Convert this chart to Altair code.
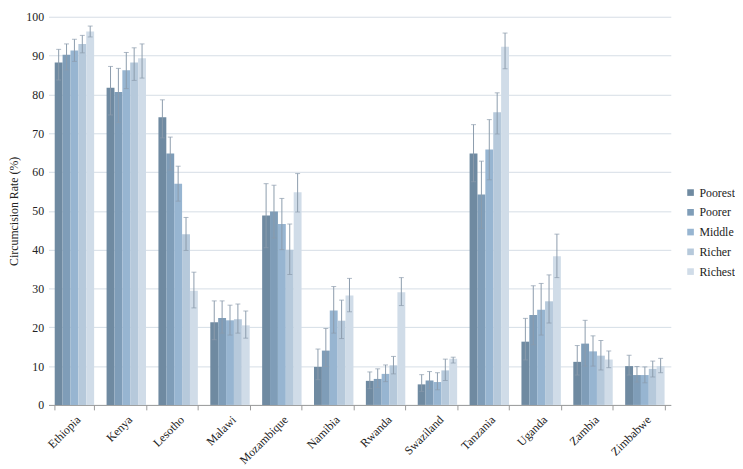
import altair as alt
import pandas as pd

countries = ["Ethiopia", "Kenya", "Lesotho", "Malawi", "Mozambique", "Namibia",
             "Rwanda", "Swaziland", "Tanzania", "Uganda", "Zambia", "Zimbabwe"]
quintiles = ["Poorest", "Poorer", "Middle", "Richer", "Richest"]
colors = ["#6f8aa1", "#7f9db8", "#97b5d1", "#b6c9db", "#d0dce8"]
y_ticks = [0, 10, 20, 30, 40, 50, 60, 70, 80, 90, 100]

poorest = [88.2, 81.7, 74.1, 21.3, 48.8, 9.8, 6.2, 5.3, 64.8, 16.3, 11.1, 10.0]
poorest_lo = [83.7, 74.7, 68.8, 16.8, 40.5, 6.5, 4.2, 3.5, 57.5, 11.6, 7.7, 7.7]
poorest_hi = [91.6, 87.2, 78.6, 26.8, 57.0, 14.4, 8.5, 7.8, 72.2, 22.3, 15.3, 12.8]

poorer = [90.2, 80.6, 64.8, 22.4, 49.8, 14.0, 6.7, 6.3, 54.2, 23.2, 15.8, 7.7]
poorer_lo = [86.3, 72.8, 60.5, 18.5, 43.0, 9.9, 4.5, 4.2, 45.5, 15.5, 10.0, 5.9]
poorer_hi = [93.0, 86.7, 69.0, 26.8, 56.6, 19.7, 9.3, 8.6, 62.8, 30.7, 21.8, 9.9]

middle = [91.3, 86.2, 57.0, 21.8, 46.6, 24.3, 8.0, 5.9, 65.8, 24.5, 13.8, 7.7]
middle_lo = [88.5, 81.5, 52.5, 18.0, 40.0, 18.5, 6.0, 3.9, 58.0, 18.0, 10.0, 5.7]
middle_hi = [94.2, 90.8, 61.5, 25.7, 53.2, 30.5, 10.3, 8.3, 73.5, 31.3, 17.8, 9.8]

richer = [93.0, 88.2, 44.0, 22.1, 40.0, 21.7, 10.2, 8.9, 75.4, 26.7, 12.7, 9.3]
richer_lo = [90.7, 83.6, 39.8, 18.5, 33.6, 17.1, 8.0, 6.3, 69.8, 21.1, 9.0, 7.2]
richer_hi = [95.2, 92.0, 48.3, 26.0, 46.6, 27.0, 12.5, 11.8, 80.4, 33.5, 16.6, 11.3]

richest = [96.2, 89.3, 29.4, 20.5, 54.8, 28.2, 29.0, 11.9, 92.3, 38.3, 11.7, 10.0]
richest_lo = [94.8, 84.2, 25.0, 17.2, 49.7, 24.0, 25.6, 10.8, 86.6, 32.8, 9.6, 8.3]
richest_hi = [97.6, 93.0, 34.2, 24.2, 59.6, 32.6, 32.8, 12.3, 95.8, 44.0, 13.9, 12.0]

series = {
    "Poorest": (poorest, poorest_lo, poorest_hi),
    "Poorer": (poorer, poorer_lo, poorer_hi),
    "Middle": (middle, middle_lo, middle_hi),
    "Richer": (richer, richer_lo, richer_hi),
    "Richest": (richest, richest_lo, richest_hi),
}

rows = []
for q in quintiles:
    vals, lo, hi = series[q]
    for i, c in enumerate(countries):
        rows.append({"Country": c, "Quintile": q, "Rate": vals[i], "Lo": lo[i], "Hi": hi[i]})
df = pd.DataFrame(rows)

FONT = "'Liberation Serif', 'Times New Roman', serif"
W = 630
H = 393
ERR = "#8b9bac"
YTITLE = "Circumcision Rate (%)"


def xe():
    return alt.X("Country:N", sort=countries, title=None,
                 scale=alt.Scale(paddingInner=0.24, paddingOuter=0.12),
                 axis=alt.Axis(labelAngle=-45, tickBand="extent", tickSize=5,
                               labelPadding=4, grid=False))


def ye(field):
    return alt.Y(field, title=YTITLE, scale=alt.Scale(domain=[0, 100]),
                 axis=alt.Axis(values=y_ticks, domain=False, ticks=False,
                               labelPadding=5, titlePadding=5))


xoff = alt.XOffset("Quintile:N", sort=quintiles, scale=alt.Scale(paddingInner=0, paddingOuter=0))

base = alt.Chart(df)

bars = base.mark_bar().encode(
    x=xe(),
    xOffset=xoff,
    y=ye("Rate:Q"),
    color=alt.Color("Quintile:N", sort=quintiles,
                    scale=alt.Scale(domain=quintiles, range=colors),
                    legend=alt.Legend(title=None, orient="none", legendX=W + 14, legendY=172,
                                      symbolType="square", symbolSize=45, symbolStrokeWidth=0,
                                      rowPadding=8, labelOffset=3)),
)

err = base.mark_rule(color=ERR, strokeWidth=1).encode(
    x=xe(),
    xOffset=xoff,
    y=ye("Lo:Q"),
    y2="Hi:Q",
)

cap_hi = base.mark_tick(color=ERR, thickness=1, size=5).encode(
    x=xe(),
    xOffset=xoff,
    y=ye("Hi:Q"),
)
cap_lo = base.mark_tick(color=ERR, thickness=1, size=5).encode(
    x=xe(),
    xOffset=xoff,
    y=ye("Lo:Q"),
)

chart = alt.layer(bars, err, cap_hi, cap_lo).properties(
    width=W, height=H, background="white",
    padding={"left": 0, "top": 0, "right": 0, "bottom": 0},
).configure_view(stroke=None).configure_axis(
    labelFont=FONT, labelFontSize=12, labelColor="#222",
    titleFont=FONT, titleFontSize=12, titleFontWeight="normal", titleColor="#222",
    gridColor="#d5dde6", domainColor="#9a9a9a", tickColor="#9a9a9a",
).configure_legend(
    labelFont=FONT, labelFontSize=12, labelColor="#222",
)

chart.save("out.html", embed_options={"renderer": "svg", "actions": False})
